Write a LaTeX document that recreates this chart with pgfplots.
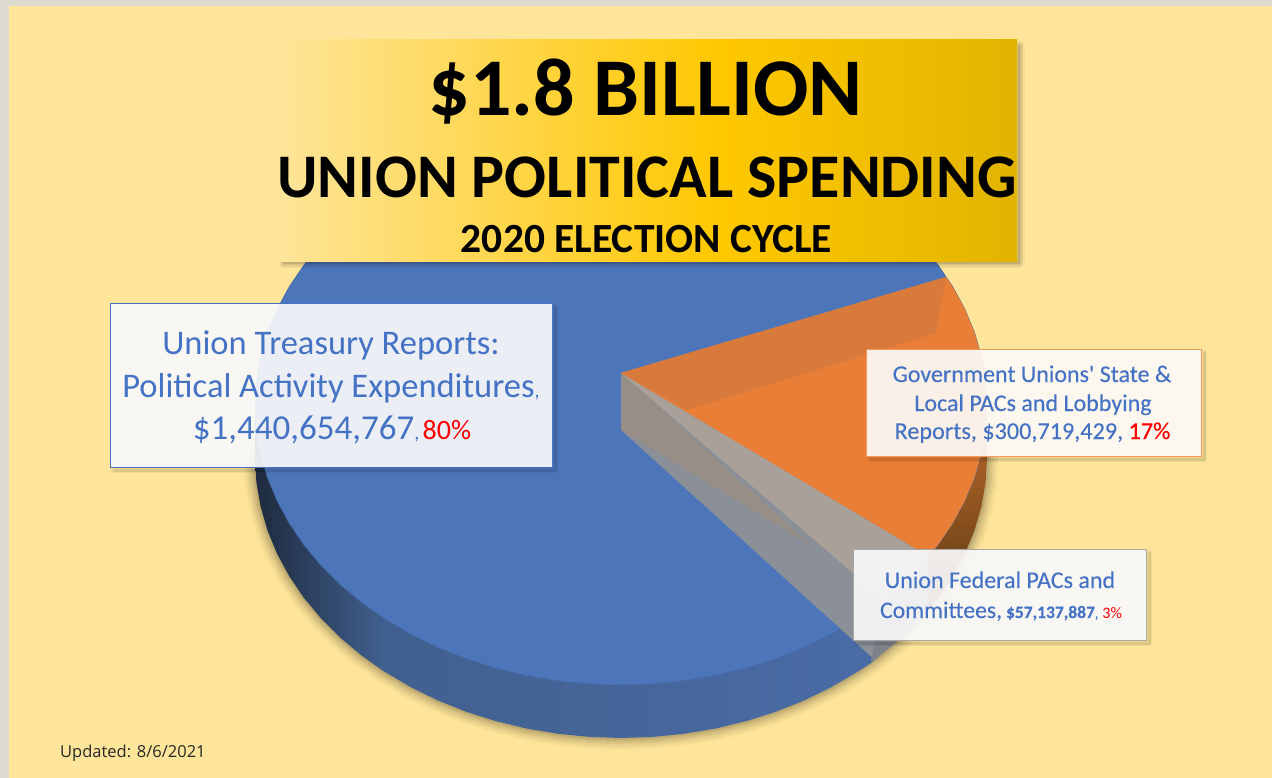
\documentclass[border=0pt]{standalone}
\usepackage{pgfplots}
\pgfplotsset{compat=1.18}
\usepackage{fontspec}
\setmainfont{Carlito}
\newfontfamily\upd{Open Sans}
\newfontfamily\lab[FakeBold=0.25]{Carlito}
\definecolor{frameC}{HTML}{DDDBD0}
\definecolor{bgC}{HTML}{FEE599}
\definecolor{blueC}{HTML}{4D75BA}
\definecolor{blueL}{HTML}{3F66A8}
\definecolor{orangeC}{HTML}{E97F36}
\definecolor{orangeD}{HTML}{D97A3D}
\definecolor{greyA}{HTML}{A9A09A}
\definecolor{greyB}{HTML}{978E88}
\definecolor{greyC}{HTML}{8A8F98}
\definecolor{greyD}{HTML}{80828A}
\definecolor{txtC}{HTML}{4472C4}
\definecolor{redC}{HTML}{FF0000}
\definecolor{goldA}{HTML}{FFC800}
\definecolor{goldB}{HTML}{E2B400}
\definecolor{boxA}{HTML}{F9F9FB}
\definecolor{boxB}{HTML}{FDFAF7}
\definecolor{edgeB}{HTML}{F09A5C}
\definecolor{sideT}{HTML}{C06A2C}
\definecolor{sideB}{HTML}{5C3C12}
\definecolor{sideL}{HTML}{1E2A3E}
\definecolor{sideM}{HTML}{41608F}
\definecolor{sideR}{HTML}{4A6CA6}
\newcommand{\rectshadow}[6]{% x0 y0 x1 y1 width opacity: right and bottom edges only
  \addplot[draw=black,line width=#5pt,opacity=#6,line join=round,line cap=round] coordinates {(#3,#2) (#3,#4) (#1,#4)};}
\newcommand{\pieshadow}[2]{% width opacity
  \addplot[draw=black,opacity=#2,line width=#1pt,line join=round,line cap=round] coordinates {(987,458) (985.6,482.4) (981.4,506.6) (974.5,530.5) (964.9,553.8) (952.7,576.3) (938,598) (920.8,618.6) (901.4,638) (879.8,656) (856.3,672.5) (830.9,687.4) (804,700.5) (775.7,711.8) (746.2,721.1) (715.7,728.5) (684.5,733.7) (652.9,736.9) (621,738) (589.1,736.9) (557.5,733.7) (526.3,728.5) (495.8,721.1) (466.3,711.8) (438,700.5) (411.1,687.4) (385.7,672.5) (362.2,656) (340.6,638) (321.2,618.6) (304,598) (289.3,576.3) (277.1,553.8) (267.5,530.5) (260.6,506.6) (256.4,482.4) (255,458)};}
\begin{document}
\begin{tikzpicture}
\begin{axis}[
  width=1272pt,height=778pt,scale only axis,
  xmin=0,xmax=1272,ymin=0,ymax=778,y dir=reverse,
  hide axis,no markers,
]
% slices: Union Treasury 1440654767 (80%), Gov. Unions 300719429 (17%), Federal PACs 57137887 (3%)
% page
\addplot[fill=frameC,draw=none] coordinates {(0,0) (1272,0) (1272,778) (0,778)} --cycle;
\addplot[fill=bgC,draw=none] coordinates {(9,6) (1272,6) (1272,778) (9,778)} --cycle;
% soft shadow of the pie
\pieshadow{24}{.022}
\pieshadow{20}{.03}
\pieshadow{16}{.04}
\pieshadow{12}{.05}
\pieshadow{8}{.06}
\pieshadow{4}{.08}
% side walls
\addplot[draw=none,top color=sideT,bottom color=sideB] coordinates {(987,405) (985.6,429.4) (981.4,453.6) (974.5,477.5) (964.9,500.8) (952.7,523.3) (938,545) (928,556) (928,609) (938,598) (952.7,576.3) (964.9,553.8) (974.5,530.5) (981.4,506.6) (985.6,482.4) (987,458)} --cycle;
\addplot[draw=none,fill=greyD] coordinates {(928,556) (920.8,565.6) (901.4,585) (879.8,603) (871.6,609.7) (871.6,662.7) (879.8,656) (901.4,638) (920.8,618.6) (928,609)} --cycle;
\addplot[draw=none,left color=sideL,right color=sideM] coordinates {(384.7,610) (362.2,603) (340.6,585) (321.2,565.6) (304,545) (289.3,523.3) (277.1,500.8) (267.5,477.5) (260.6,453.6) (256.4,429.4) (255,405) (255,458) (256.4,482.4) (260.6,506.6) (267.5,530.5) (277.1,553.8) (289.3,576.3) (304,598) (321.2,618.6) (340.6,638) (362.2,656) (384.7,671.9)} --cycle;
\addplot[draw=none,left color=sideM,right color=sideR] coordinates {(871.6,609.7) (856.3,619.5) (830.9,634.4) (804,647.5) (775.7,658.8) (746.2,668.1) (715.7,675.5) (684.5,680.7) (652.9,683.9) (621,685) (589.1,683.9) (557.5,680.7) (526.3,675.5) (495.8,668.1) (466.3,658.8) (438,647.5) (411.1,634.4) (383.7,610) (383.7,671.2) (411.1,687.4) (438,700.5) (466.3,711.8) (495.8,721.1) (526.3,728.5) (557.5,733.7) (589.1,736.9) (621,738) (652.9,736.9) (684.5,733.7) (715.7,728.5) (746.2,721.1) (775.7,711.8) (804,700.5) (830.9,687.4) (856.3,672.5) (871.6,662.7)} --cycle;
% blue top face
\addplot[fill=blueC,draw=blueL,line width=.6pt] coordinates {(987,405) (985.6,429.4) (981.4,453.6) (974.5,477.5) (964.9,500.8) (952.7,523.3) (938,545) (920.8,565.6) (901.4,585) (879.8,603) (856.3,619.5) (830.9,634.4) (804,647.5) (775.7,658.8) (746.2,668.1) (715.7,675.5) (684.5,680.7) (652.9,683.9) (621,685) (589.1,683.9) (557.5,680.7) (526.3,675.5) (495.8,668.1) (466.3,658.8) (438,647.5) (411.1,634.4) (385.7,619.5) (362.2,603) (340.6,585) (321.2,565.6) (304,545) (289.3,523.3) (277.1,500.8) (267.5,477.5) (260.6,453.6) (256.4,429.4) (255,405) (256.4,380.6) (260.6,356.4) (267.5,332.5) (277.1,309.2) (289.3,286.7) (304,265) (321.2,244.4) (362.2,207) (621,125) (879.8,207) (920.8,244.4) (938,265) (952.7,286.7) (964.9,309.2) (974.5,332.5) (981.4,356.4) (985.6,380.6)} --cycle;
% wall of the blue slice and of the grey slice
\addplot[fill=greyC,draw=none] coordinates {(621,373) (900,540) (884,603) (871.6,657) (621,430)} --cycle;
\addplot[fill=greyB,draw=none] coordinates {(621,373) (621,430) (813,547)} --cycle;
\addplot[fill=greyA,draw=none] coordinates {(621,373) (928,556) (920.8,565.6) (901.4,585) (884,600)} --cycle;
% orange slice
\addplot[fill=orangeC,draw=none] coordinates {(621,373) (946,277) (952.7,286.7) (964.9,309.2) (974.5,332.5) (981.4,356.4) (985.6,380.6) (987,405) (985.6,429.4) (981.4,453.6) (974.5,477.5) (964.9,500.8) (952.7,523.3) (938,545) (928,556)} --cycle;
\addplot[fill=orangeD,draw=none] coordinates {(621,373) (946,277) (936,333) (687,410)} --cycle;
% title box
\rectshadow{284}{46}{1019}{263}{11}{.035}
\rectshadow{284}{46}{1019}{263}{8}{.05}
\rectshadow{284}{46}{1019}{263}{5}{.07}
\rectshadow{284}{46}{1019}{263}{2}{.10}
\addplot[draw=none,left color=bgC,right color=goldA] coordinates {(279,40) (720.5,40) (720.5,262) (279,262)} --cycle;
\addplot[draw=none,left color=goldA,right color=goldB] coordinates {(720,40) (1017,40) (1017,262) (720,262)} --cycle;
% label boxes
\rectshadow{114}{307}{555}{470}{6}{.05}
\rectshadow{114}{307}{555}{470}{3}{.09}
\addplot[fill=boxA,fill opacity=.92,draw=txtC,line width=1pt] coordinates {(110,303) (552,303) (552,467) (110,467)} --cycle;
\rectshadow{870}{353}{1204}{459}{6}{.05}
\rectshadow{870}{353}{1204}{459}{3}{.09}
\addplot[fill=boxB,fill opacity=.92,draw=edgeB,line width=1pt] coordinates {(866,349) (1201,349) (1201,456) (866,456)} --cycle;
\rectshadow{857}{553}{1149}{643}{6}{.05}
\rectshadow{857}{553}{1149}{643}{3}{.09}
\addplot[fill=boxA,fill opacity=.92,draw=black!35,line width=1pt] coordinates {(853,549) (1146,549) (1146,640) (853,640)} --cycle;
% title text
\node[anchor=base,inner sep=0] at (axis cs:645.5,116) {\fontsize{82}{82}\selectfont\bfseries \$1.8 BILLION};
\node[anchor=base,inner sep=0] at (axis cs:647,198) {\fontsize{62}{62}\selectfont\bfseries UNION POLITICAL SPENDING};
\node[anchor=base,inner sep=0] at (axis cs:646.5,252) {\fontsize{41.5}{41.5}\selectfont\bfseries 2020 ELECTION CYCLE};
% label text
\node[anchor=base,inner sep=0,text=txtC] at (axis cs:331,354) {\fontsize{34.5}{34.5}\selectfont Union Treasury Reports:};
\node[anchor=base,inner sep=0,text=txtC] at (axis cs:331,397) {\fontsize{34.5}{34.5}\selectfont Political Activity Expenditures\fontsize{20}{20}\selectfont,};
\node[anchor=base,inner sep=0,text=txtC] at (axis cs:332,439) {\fontsize{35}{35}\selectfont \$1,440,654,767\fontsize{20}{20}\selectfont,\,\fontsize{28}{28}\selectfont\textcolor{redC}{80\%}};
\node[anchor=base,inner sep=0,text=txtC] at (axis cs:1032,382) {\lab\fontsize{24}{24}\selectfont Government Unions' State \&};
\node[anchor=base,inner sep=0,text=txtC] at (axis cs:1033,411) {\lab\fontsize{24}{24}\selectfont Local PACs and Lobbying};
\node[anchor=base,inner sep=0,text=txtC] at (axis cs:1032.5,439) {\lab\fontsize{24.2}{24.2}\selectfont Reports, \$300,719,429, \textcolor{redC}{17\%}};
\node[anchor=base,inner sep=0,text=txtC] at (axis cs:1000,588) {\lab\fontsize{24}{24}\selectfont Union Federal PACs and};
\node[anchor=base,inner sep=0,text=txtC] at (axis cs:1001,618) {\lab\fontsize{23.7}{23.7}\selectfont Committees,\hspace{4pt}\bfseries\fontsize{17.5}{17.5}\selectfont \$57,137,887\mdseries\fontsize{14}{14}\selectfont,\hspace{4pt}\normalfont\fontsize{16}{16}\selectfont\textcolor{redC}{3\%}};
\node[anchor=base west,inner sep=0,text=black!85] at (axis cs:60,757) {\upd\fontsize{16.5}{16.5}\selectfont Updated: 8/6/2021};
\end{axis}
\end{tikzpicture}
\end{document}
